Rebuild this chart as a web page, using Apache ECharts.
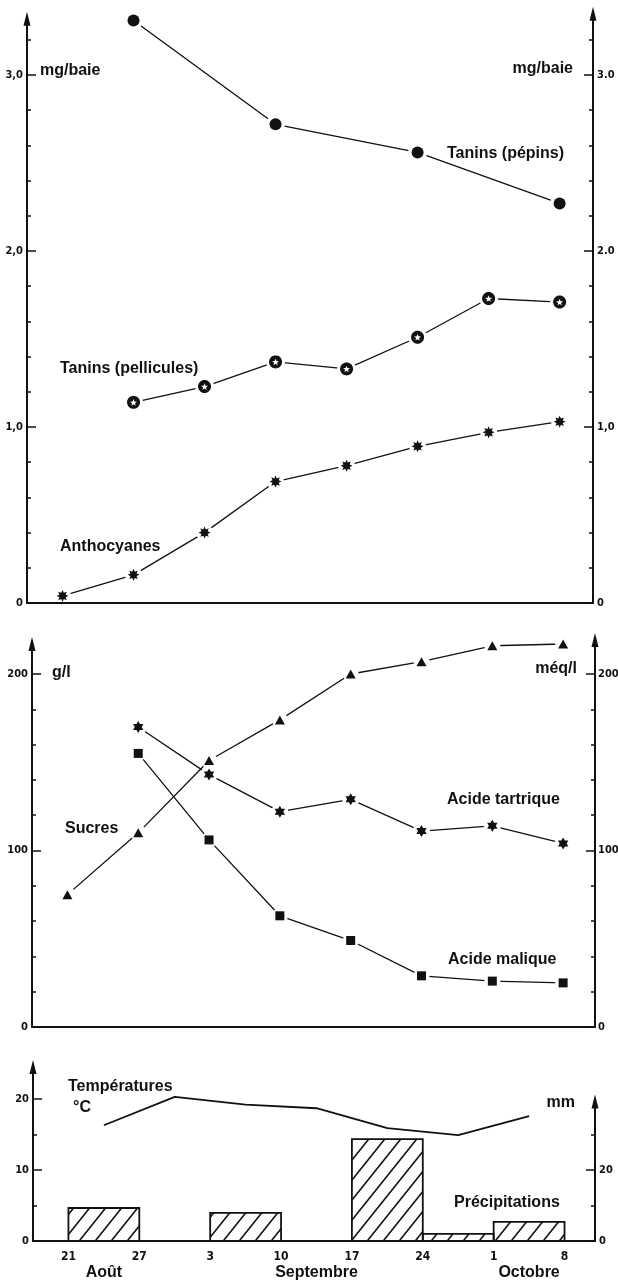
<!DOCTYPE html>
<html>
<head>
<meta charset="utf-8">
<title>Maturation du raisin</title>
<script src="https://cdn.jsdelivr.net/npm/echarts@6/dist/echarts.min.js"></script>
<style>
  html, body { margin: 0; padding: 0; background: #fff; }
  #chart { width: 618px; height: 1282px; }
</style>
</head>
<body>
<div id="chart"></div>
<script>
// Sampling dates (one a week) and the months they fall in
const dates = ['21', '27', '3', '10', '17', '24', '1', '8'];
const months = ['Août', 'Septembre', 'Octobre'];
const monthAt = [0.5, 3.5, 6.5];

// Berry composition, mg/baie (null = not sampled)
const anthocyanes = [0.04, 0.16, 0.40, 0.69, 0.78, 0.89, 0.97, 1.03];
const taninsPellicules = [null, 1.14, 1.23, 1.37, 1.33, 1.51, 1.73, 1.71];
const taninsPepins = [null, 3.31, null, 2.72, null, 2.56, null, 2.27];

// Must composition: sugars in g/l, acids in méq/l
const sucres = [75, 110, 151, 174, 200, 207, 216, 217];
const acideTartrique = [null, 170, 143, 122, 129, 111, 114, 104];
const acideMalique = [null, 155, 106, 63, 49, 29, 26, 25];

// Weekly weather, one value per interval between two sampling dates
const temperatures = [16.3, 20.3, 19.2, 18.7, 15.9, 14.9, 17.6];
const precipitations = [9.3, 0, 7.9, 0, 28.7, 2.0, 5.4];

// Tick labels
const mgLeftLabels = ['0', '1,0', '2,0', '3,0'];
const mgRightLabels = ['0', '1,0', '2.0', '3.0'];
const gLabels = ['0', '100', '200'];
const tempLabels = ['0', '10', '20'];
const mmLabels = ['0', '20'];

const INK = '#111';
const TXT = "'Liberation Sans', Arial, Helvetica, sans-serif";
const NUM = "'Liberation Sans Narrow', 'DejaVu Sans Condensed', 'Liberation Sans', sans-serif";

function pairs(arr, offset) {
  return arr.map((v, i) => (v == null ? null : [i + (offset || 0), v])).filter(Boolean);
}

// ---- marker shapes ----
function poly(points) {
  return points.map((p, i) => (i ? 'L' : 'M') + p[0].toFixed(2) + ',' + p[1].toFixed(2)).join(' ') + ' Z';
}
function starPoints(n, rOut, rIn, cx, cy, reverse) {
  const pts = [];
  for (let k = 0; k < 2 * n; k++) {
    const a = -Math.PI / 2 + (reverse ? -1 : 1) * k * Math.PI / n;
    const r = k % 2 ? rIn : rOut;
    pts.push([cx + r * Math.cos(a), cy + r * Math.sin(a)]);
  }
  return pts;
}
const burst8 = 'path://' + poly(starPoints(8, 10, 5.6, 10, 10));
const star6 = 'path://' + poly(starPoints(6, 10, 5.8, 10, 10));
// black disc with a five-pointed star cut out of it (opposite winding)
const disc = [];
for (let k = 0; k < 40; k++) {
  const a = k * Math.PI / 20;
  disc.push([10 + 10 * Math.cos(a), 10 + 10 * Math.sin(a)]);
}
const discStar = 'path://' + poly(disc) + ' ' + poly(starPoints(5, 5.6, 2.4, 10, 10.6, true));

// hatch fill for the rain bars
const hatch = (function () {
  const w = 16, h = 20;
  const c = document.createElement('canvas');
  c.width = w; c.height = h;
  const g = c.getContext('2d');
  g.strokeStyle = INK;
  g.lineWidth = 1.6;
  g.beginPath();
  for (const k of [-1, 0, 1]) {
    g.moveTo(w * k - 2, h + 2 * h / w);
    g.lineTo(w * k + w + 2, -2 * h / w);
  }
  g.stroke();
  return { image: c, repeat: 'repeat' };
})();

// ---- axes ----
const axisLineStyle = { color: INK, width: 2 };
const tickStyle = { color: INK, width: 1.5 };
const numLabel = { color: INK, fontFamily: NUM, fontWeight: 'bold', fontSize: 11, margin: 4 };

// axis line ending in an arrow whose shaft continues the line by `len` px
function arrowLine(len) {
  return {
    show: true, onZero: false, lineStyle: axisLineStyle,
    symbol: ['none', 'path://M3.5,0 L7,14 L4.5,14 L4.5,' + len + ' L2.5,' + len + ' L2.5,14 L0,14 Z'],
    symbolSize: [7, len],
    symbolOffset: [0, len / 2]
  };
}
const noLine = { show: false, onZero: false };
const noSplit = { show: false };

function xBase(grid, max, show) {
  return {
    gridIndex: grid, type: 'value', min: -0.5, max: max, show: show, z: 5,
    axisLine: { show: true, onZero: false, lineStyle: axisLineStyle },
    axisTick: { show: false }, axisLabel: { show: false }, splitLine: noSplit
  };
}

const xAxis = [
  xBase(0, 7.47, true),
  xBase(1, 7.47, false),
  xBase(2, 7.45, true),
  Object.assign(xBase(3, 7.43, true), {
    interval: 0.5,
    axisLabel: {
      show: true, margin: 8,
      formatter: function (v) {
        const i = Math.round(v);
        if (Math.abs(v - i) < 1e-6 && i >= 0 && i < dates.length) return '{d|' + dates[i] + '}';
        const m = monthAt.findIndex(p => Math.abs(p - v) < 1e-6);
        return m >= 0 ? '{d| }\n{m|' + months[m] + '}' : '';
      },
      rich: {
        d: { fontFamily: NUM, fontWeight: 'bold', fontSize: 12, lineHeight: 16, color: INK },
        m: { fontFamily: TXT, fontWeight: 'bold', fontSize: 16, lineHeight: 16, color: INK }
      }
    }
  }),
  xBase(4, 7.43, false),
  xBase(5, 7.43, false)
];

const yAxis = [
  // 0,1: berry scale, short ticks every 0.2
  { gridIndex: 0, type: 'value', position: 'left', min: 0, max: 3.2, interval: 0.2, z: 5,
    axisLine: arrowLine(28), axisTick: { inside: true, length: 4, lineStyle: tickStyle },
    axisLabel: { show: false }, splitLine: noSplit },
  { gridIndex: 0, type: 'value', position: 'right', min: 0, max: 3.2, interval: 0.2, z: 5,
    axisLine: arrowLine(33), axisTick: { inside: true, length: 4, lineStyle: tickStyle },
    axisLabel: { show: false }, splitLine: noSplit },
  // 2,3: berry scale, labelled ticks
  { gridIndex: 1, type: 'value', position: 'left', min: 0, max: 3, interval: 1, z: 5,
    axisLine: noLine, axisTick: { inside: true, length: 9, lineStyle: tickStyle },
    axisLabel: Object.assign({}, numLabel, { formatter: v => mgLeftLabels[Math.round(v)] }), splitLine: noSplit },
  { gridIndex: 1, type: 'value', position: 'right', min: 0, max: 3, interval: 1, z: 5,
    axisLine: noLine, axisTick: { inside: true, length: 9, lineStyle: tickStyle },
    axisLabel: Object.assign({}, numLabel, { formatter: v => mgRightLabels[Math.round(v)] }), splitLine: noSplit },
  // 4: g/l
  { gridIndex: 2, type: 'value', position: 'left', min: 0, max: 200, interval: 100, z: 5,
    axisLine: arrowLine(37), axisTick: { inside: true, length: 9, lineStyle: tickStyle },
    minorTick: { show: true, splitNumber: 5, length: 4, lineStyle: tickStyle },
    axisLabel: Object.assign({}, numLabel, { formatter: v => gLabels[Math.round(v / 100)] }), splitLine: noSplit },
  // 5: méq/l
  { gridIndex: 2, type: 'value', position: 'right', min: 0, max: 200, interval: 100, z: 5,
    axisLine: arrowLine(41), axisTick: { inside: true, length: 9, lineStyle: tickStyle },
    minorTick: { show: true, splitNumber: 5, length: 4, lineStyle: tickStyle },
    axisLabel: Object.assign({}, numLabel, { margin: 3, formatter: v => gLabels[Math.round(v / 100)] }), splitLine: noSplit },
  // 6: °C
  { gridIndex: 3, type: 'value', position: 'left', min: 0, max: 20, interval: 10, z: 5,
    axisLine: arrowLine(39), axisTick: { inside: true, length: 9, lineStyle: tickStyle },
    minorTick: { show: true, splitNumber: 2, length: 4, lineStyle: tickStyle },
    axisLabel: Object.assign({}, numLabel, { formatter: v => tempLabels[Math.round(v / 10)] }), splitLine: noSplit },
  // 7: mm, short ticks
  { gridIndex: 4, type: 'value', position: 'right', min: 0, max: 30, interval: 10, z: 5,
    axisLine: arrowLine(40), axisTick: { inside: true, length: 4, lineStyle: tickStyle },
    axisLabel: { show: false }, splitLine: noSplit },
  // 8: mm, labelled ticks
  { gridIndex: 5, type: 'value', position: 'right', min: 0, max: 20, interval: 20, z: 5,
    axisLine: noLine, axisTick: { inside: true, length: 9, lineStyle: tickStyle },
    axisLabel: Object.assign({}, numLabel, { formatter: v => mmLabels[Math.round(v / 20)] }), splitLine: noSplit }
];

// ---- series ----
const lineStyle = { color: INK, width: 1.3 };
// the connecting line, with white discs that leave a small gap round each point
function link(name, xi, yi, data, gap) {
  return {
    type: 'line', name: name, xAxisIndex: xi, yAxisIndex: yi, data: data,
    symbol: 'circle', symbolSize: gap, showSymbol: true,
    itemStyle: { color: '#fff', borderWidth: 0, opacity: 1 }, lineStyle: lineStyle,
    clip: false, silent: true, z: 2
  };
}
function marks(name, xi, yi, data, symbol, size) {
  return {
    type: 'scatter', name: name, xAxisIndex: xi, yAxisIndex: yi, data: data,
    symbol: symbol, symbolSize: size, symbolKeepAspect: true,
    itemStyle: { color: INK, opacity: 1 }, clip: false, silent: true, z: 6
  };
}

const series = [
  link('Tanins (pépins)', 0, 0, pairs(taninsPepins), 19),
  marks('Tanins (pépins)', 0, 0, pairs(taninsPepins), 'circle', 12),
  link('Tanins (pellicules)', 0, 0, pairs(taninsPellicules), 19),
  marks('Tanins (pellicules)', 0, 0, pairs(taninsPellicules), discStar, 13),
  link('Anthocyanes', 0, 0, pairs(anthocyanes), 17),
  marks('Anthocyanes', 0, 0, pairs(anthocyanes), burst8, 12),

  link('Sucres', 2, 4, pairs(sucres), 16),
  marks('Sucres', 2, 4, pairs(sucres), 'triangle', [10, 9]),
  link('Acide tartrique', 2, 5, pairs(acideTartrique), 17),
  marks('Acide tartrique', 2, 5, pairs(acideTartrique), star6, 12),
  link('Acide malique', 2, 5, pairs(acideMalique), 16),
  marks('Acide malique', 2, 5, pairs(acideMalique), 'rect', 9),

  {
    type: 'line', name: 'Températures', xAxisIndex: 3, yAxisIndex: 6,
    data: pairs(temperatures, 0.5), showSymbol: false, symbol: 'none',
    lineStyle: { color: INK, width: 1.8 }, clip: false, silent: true, z: 2
  },
  {
    type: 'custom', name: 'Précipitations', xAxisIndex: 4, yAxisIndex: 7,
    data: precipitations.map((v, i) => [i, v]).filter(d => d[1] > 0),
    renderItem: function (params, api) {
      const i = api.value(0), v = api.value(1);
      const a = api.coord([i, v]);
      const b = api.coord([i + 1, 0]);
      return {
        type: 'rect',
        shape: { x: a[0], y: a[1], width: b[0] - a[0], height: b[1] - a[1] },
        style: { fill: hatch, stroke: INK, lineWidth: 1.8 }
      };
    },
    silent: true, z: 2
  }
];

// ---- free text ----
const notes = [
  ['mg/baie', 40, 71, 'left'],
  ['mg/baie', 573, 69, 'right'],
  ['Tanins (pépins)', 447, 154, 'left'],
  ['Tanins (pellicules)', 60, 369, 'left'],
  ['Anthocyanes', 60, 547, 'left'],
  ['g/l', 52, 673, 'left'],
  ['Sucres', 65, 829, 'left'],
  ['méq/l', 577, 669, 'right'],
  ['Acide tartrique', 447, 800, 'left'],
  ['Acide malique', 448, 960, 'left'],
  ['Températures', 68, 1087, 'left'],
  ['°C', 73, 1108, 'left'],
  ['mm', 575, 1103, 'right'],
  ['Précipitations', 454, 1203, 'left']
];

const grid = [
  { left: 27, right: 25, top: 39.8, bottom: 679 },
  { left: 27, right: 25, top: 75, bottom: 679 },
  { left: 32, right: 23, top: 674, bottom: 255 },
  { left: 33, right: 23, top: 1099, bottom: 41 },
  { left: 33, right: 23, top: 1134.5, bottom: 41 },
  { left: 33, right: 23, top: 1170, bottom: 41 }
].map(g => Object.assign({ outerBoundsMode: 'none', containLabel: false }, g));

const chart = echarts.init(document.getElementById('chart'), null, { renderer: 'canvas', width: 618, height: 1282 });
chart.setOption({
  backgroundColor: '#fff',
  animation: false,
  grid: grid,
  xAxis: xAxis,
  yAxis: yAxis,
  series: series,
  graphic: {
    elements: notes.map(n => ({
      type: 'text', x: n[1], y: n[2], silent: true,
      style: {
        text: n[0], fill: INK, fontFamily: TXT, fontWeight: 'bold', fontSize: 16,
        align: n[3], verticalAlign: 'middle'
      }
    }))
  }
});
</script>
</body>
</html>
